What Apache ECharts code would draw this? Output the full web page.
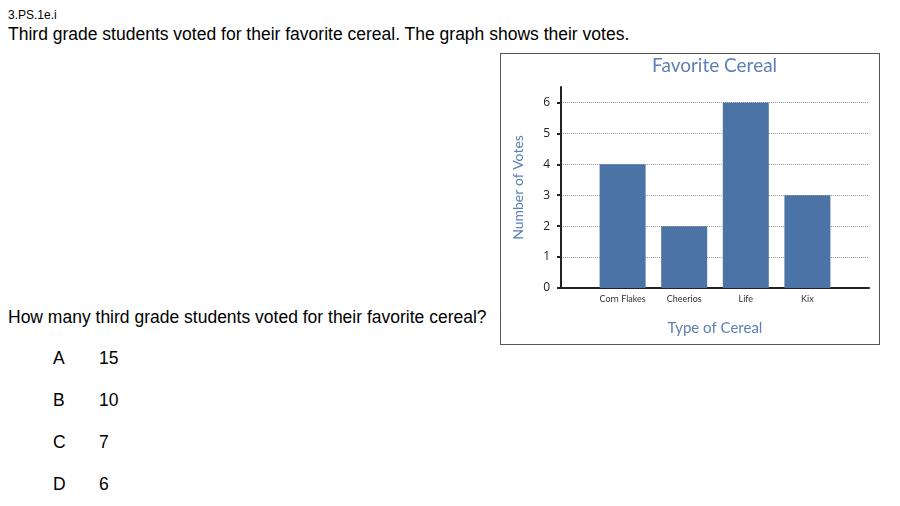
<!DOCTYPE html>
<html>
<head>
<meta charset="utf-8">
<script src="https://cdn.jsdelivr.net/npm/echarts@6/dist/echarts.min.js"></script>
<style>
  html, body { margin:0; padding:0; background:#fff; width:900px; height:506px; overflow:hidden; font-family:"Liberation Sans", Arial, sans-serif; color:#000; }
  .abs { position:absolute; white-space:nowrap; }
  #code { left:8px; top:8px; font-size:12px; }
  #stem { left:8px; top:24px; font-size:17.5px; }
  #q { left:8px; top:307px; font-size:17.5px; }
  .opt { font-size:17.5px; }
  #chartBox { position:absolute; left:500px; top:53px; width:378px; height:290px; border:1px solid #555; }
  #chart { width:378px; height:290px; }
</style>
</head>
<body>
<div class="abs" id="code">3.PS.1e.i</div>
<div class="abs" id="stem">Third grade students voted for their favorite cereal. The graph shows their votes.</div>
<div class="abs" id="q">How many third grade students voted for their favorite cereal?</div>
<div id="opts"></div>
<div id="chartBox"><div id="chart"></div></div>
<script>
const categories = ['Corn Flakes', 'Cheerios', 'Life', 'Kix'];
const votes = [4, 2, 6, 3];
const yTicks = [0, 1, 2, 3, 4, 5, 6];
const optionLetters = ['A', 'B', 'C', 'D'];
const optionValues = ['15', '10', '7', '6'];

const optTop = [348, 390, 432, 474];
const optsEl = document.getElementById('opts');
optionLetters.forEach((l, i) => {
  const a = document.createElement('div');
  a.className = 'abs opt'; a.style.left = '53px'; a.style.top = optTop[i] + 'px'; a.textContent = l;
  const b = document.createElement('div');
  b.className = 'abs opt'; b.style.left = '99px'; b.style.top = optTop[i] + 'px'; b.textContent = optionValues[i];
  optsEl.appendChild(a); optsEl.appendChild(b);
});

const chart = echarts.init(document.getElementById('chart'), null, { renderer: 'canvas' });
const blue = '#5d80b6';
const font = 'Lato, "Open Sans", sans-serif';
chart.setOption({
  animation: false,
  graphic: [{
    type: 'text', left: 214 - 63, top: 2,
    style: { text: 'Favorite Cereal', fill: blue, font: '19px ' + font }
  }],
  grid: { left: 60, right: 10, top: 33, bottom: 56 },
  xAxis: {
    type: 'value', min: 0, max: categories.length + 1, interval: 1,
    name: 'Type of Cereal', nameLocation: 'middle', nameGap: 33,
    nameTextStyle: { color: blue, fontSize: 15, fontFamily: font },
    axisLine: { show: true, lineStyle: { color: '#222', width: 2 } },
    axisTick: { show: false },
    splitLine: { show: false },
    axisLabel: {
      color: '#333', fontSize: 9, fontFamily: font, margin: 7,
      formatter: v => categories[v - 1] || ''
    }
  },
  yAxis: {
    type: 'value', min: 0, max: 6.5, interval: 1,
    name: 'Number of Votes', nameLocation: 'middle', nameGap: 36, nameRotate: 90,
    nameTextStyle: { color: blue, fontSize: 14, fontFamily: font },
    axisLine: { show: true, lineStyle: { color: '#222', width: 2 } },
    axisTick: { show: true, length: 4, customValues: yTicks, lineStyle: { color: '#222', width: 2 } },
    axisLabel: { customValues: yTicks, color: '#222', fontSize: 12, fontFamily: '"Open Sans", sans-serif', margin: 11 },
    splitLine: { show: true, lineStyle: { color: '#999', type: [1, 1], width: 1 } }
  },
  series: [{
    type: 'bar',
    data: votes.map((v, i) => [i + 1, v]),
    barWidth: 46,
    itemStyle: { color: '#4b73a6' }
  }]
});
</script>
</body>
</html>
